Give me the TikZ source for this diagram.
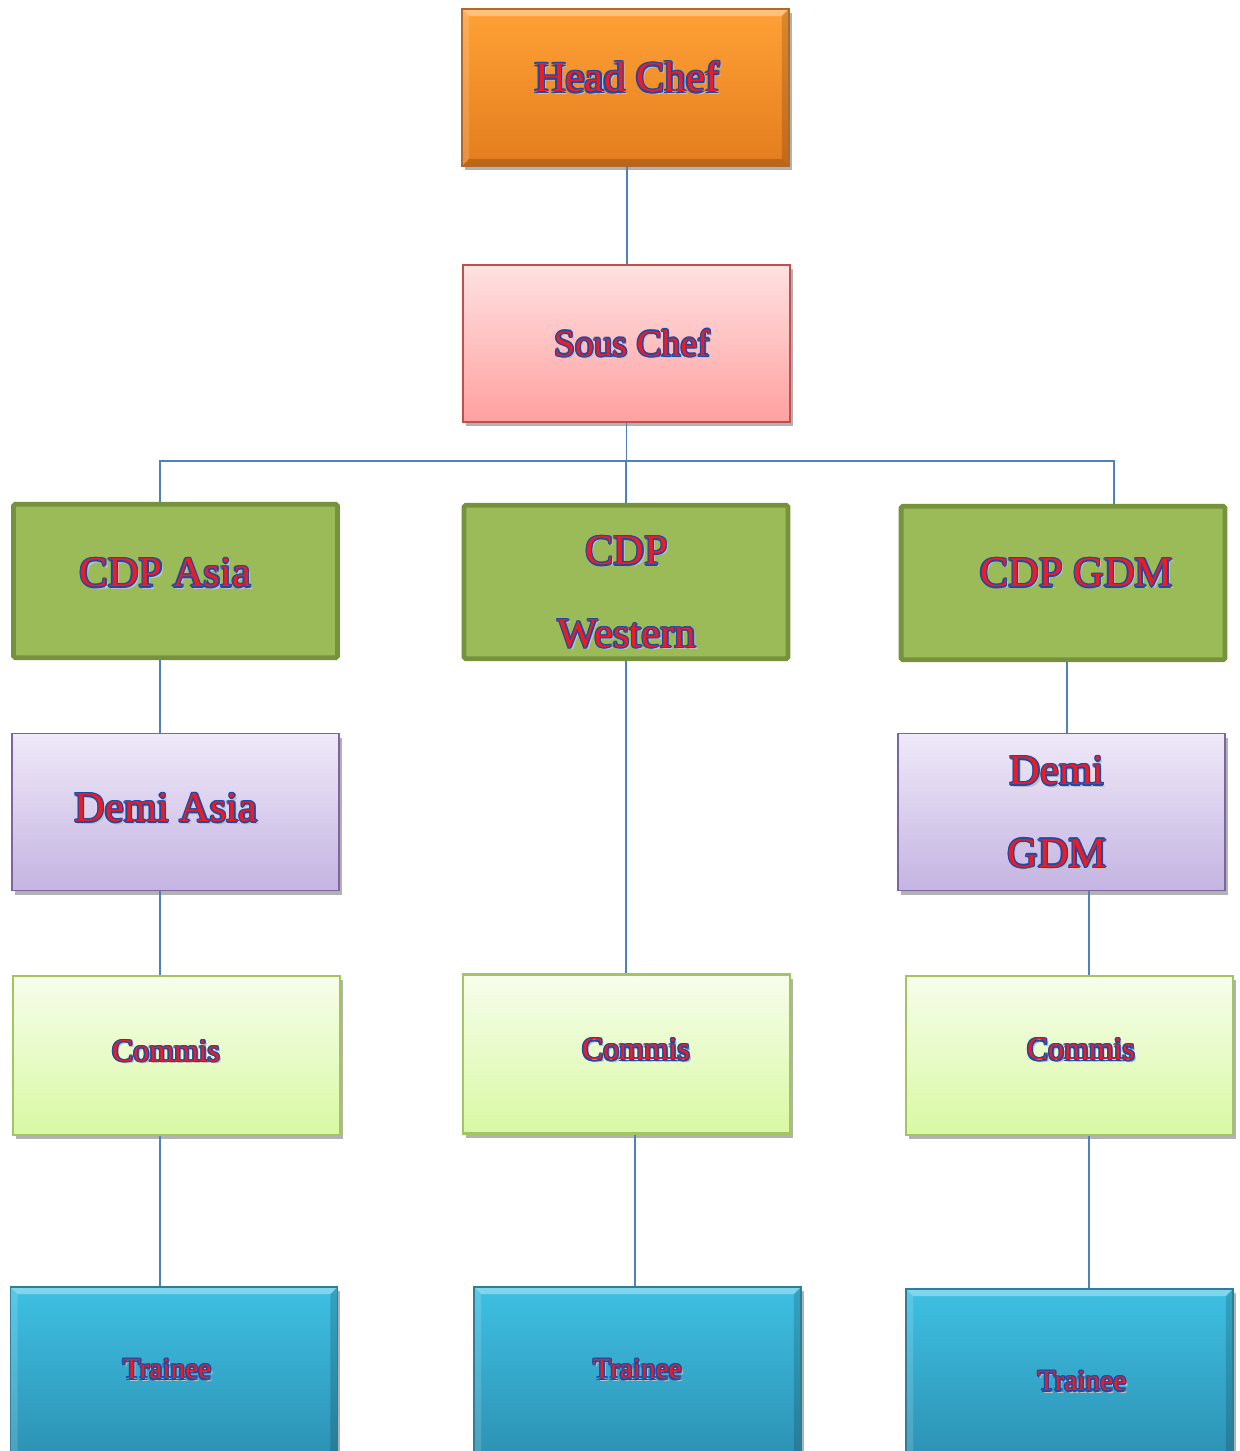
\documentclass[tikz,border=0pt]{standalone}
\usepackage{fontspec}
\setmainfont{Liberation Serif}
\usetikzlibrary{shadows}

\definecolor{headtop}{HTML}{FFA136}
\definecolor{headbot}{HTML}{E47D1E}
\definecolor{headline}{HTML}{B0692B}
\definecolor{soustop}{HTML}{FFE1E1}
\definecolor{sousbot}{HTML}{FFA0A0}
\definecolor{sousline}{HTML}{C0504D}
\definecolor{cdpfill}{HTML}{9BBB59}
\definecolor{cdpline}{HTML}{76923C}
\definecolor{demitop}{HTML}{EFE9F8}
\definecolor{demibot}{HTML}{C4B4E2}
\definecolor{demiline}{HTML}{8064A2}
\definecolor{commtop}{HTML}{F7FDEC}
\definecolor{commbot}{HTML}{D8F9A3}
\definecolor{commline}{HTML}{A3C45F}
\definecolor{traintop}{HTML}{3EC0E3}
\definecolor{trainbot}{HTML}{2C90B2}
\definecolor{trainline}{HTML}{2B7F99}
\definecolor{connblue}{HTML}{4F81BD}
\definecolor{artblue}{HTML}{1A4BA6}
\definecolor{artred}{HTML}{F01A22}

% red letters with a blue rim; optional shift of the line (twice the offset)
\newcommand{\artxt}[2][0pt]{\leavevmode\hspace*{#1}%
  \rlap{\kern1.3pt\raisebox{-1.3pt}{\color{black!25}#2}}%
  \rlap{\kern-.8pt\color{artblue}#2}%
  \rlap{\kern.8pt\color{artblue}#2}%
  \rlap{\raisebox{.8pt}{\color{artblue}#2}}%
  \rlap{\raisebox{-.8pt}{\color{artblue}#2}}%
  \rlap{\kern-.6pt\raisebox{-.6pt}{\color{artblue}#2}}%
  \rlap{\kern.6pt\raisebox{.6pt}{\color{artblue}#2}}%
  \rlap{\kern-.6pt\raisebox{.6pt}{\color{artblue}#2}}%
  \rlap{\kern.6pt\raisebox{-.6pt}{\color{artblue}#2}}%
  {\color{artred}#2}}

\tikzset{
  box/.style={rectangle, inner sep=0pt, align=center, minimum width=6.54cm, minimum height=3.14cm},
  softshadow/.style={drop shadow={shadow xshift=1.5pt, shadow yshift=-2.5pt, opacity=.3, fill=black}},
  bevel/.style={path picture={
    \fill[white,opacity=.35] (path picture bounding box.north west) -- (path picture bounding box.north east)
      -- ([shift={(-4pt,-4pt)}]path picture bounding box.north east) -- ([shift={(4pt,-4pt)}]path picture bounding box.north west) -- cycle;
    \fill[white,opacity=.15] (path picture bounding box.north west) -- (path picture bounding box.south west)
      -- ([shift={(4pt,4pt)}]path picture bounding box.south west) -- ([shift={(4pt,-4pt)}]path picture bounding box.north west) -- cycle;
    \fill[black,opacity=.15] (path picture bounding box.north east) -- (path picture bounding box.south east)
      -- ([shift={(-4pt,4pt)}]path picture bounding box.south east) -- ([shift={(-4pt,-4pt)}]path picture bounding box.north east) -- cycle;
    \fill[black,opacity=.18] (path picture bounding box.south west) -- (path picture bounding box.south east)
      -- ([shift={(-4pt,4pt)}]path picture bounding box.south east) -- ([shift={(4pt,4pt)}]path picture bounding box.south west) -- cycle;
  }},
  headbox/.style={box, top color=headtop, bottom color=headbot, draw=headline, line width=1pt,
    softshadow, bevel, font=\fontsize{24.4}{30}\selectfont},
  sousbox/.style={box, top color=soustop, bottom color=sousbot, draw=sousline, line width=1.1pt,
    softshadow, font=\fontsize{21.4}{26}\selectfont},
  cdpbox/.style={box, fill=cdpfill, draw=cdpline, line width=2.8pt, rounded corners=1pt,
    minimum width=6.48cm, minimum height=3.07cm, font=\fontsize{24.2}{47.2}\selectfont},
  demibox/.style={box, top color=demitop, bottom color=demibot, draw=demiline, line width=1.1pt,
    softshadow, font=\fontsize{24.2}{47}\selectfont},
  commbox/.style={box, top color=commtop, bottom color=commbot, draw=commline, line width=1.3pt,
    softshadow, minimum height=3.18cm, font=\fontsize{18.1}{22}\selectfont},
  trainbox/.style={box, top color=traintop, bottom color=trainbot, draw=trainline, line width=.8pt,
    softshadow, bevel, minimum height=3.5cm, font=\fontsize{16.7}{20}\selectfont},
  conn/.style={draw=connblue, line width=1.1pt}
}

\begin{document}
\begin{tikzpicture}[x=0.02cm,y=-0.02cm]
  \path[use as bounding box, clip] (0,0) rectangle (1240,1451);
  \fill[white] (0,0) rectangle (1240,1451);

  \node[headbox, text height=17pt, text depth=11.9pt] (head) at (625.5,87.5) {\artxt[2pt]{Head Chef}};
  \node[sousbox] (sous) at (626.5,343.5) {\artxt[6.2pt]{Sous Chef}};

  \node[cdpbox, text height=17pt, text depth=10.5pt] (asia) at (175.5,581) {\artxt[-11.3pt]{CDP Asia}};
  \node[cdpbox] (western) at (626,582) {\rule{0pt}{29.1pt}\artxt[1pt]{CDP}\\\artxt[1pt]{Western}};
  \node[cdpbox, text height=17pt, text depth=12.8pt] (gdm) at (1063,583) {\artxt[15.3pt]{CDP GDM}};

  \node[demibox, text height=17pt, text depth=5.7pt] (demiasia) at (175.5,812) {\artxt[-10.8pt]{Demi Asia}};
  \node[demibox] (demigdm) at (1061.5,812) {\rule{0pt}{17.5pt}\artxt[-5.1pt]{Demi}\\\artxt[-5.1pt]{GDM}};

  \node[commbox, text height=12.7pt, text depth=5.9pt] (commisa) at (176.5,1055.5) {\artxt[-11.9pt]{Commis}};
  \node[commbox, text height=12.7pt, text depth=5.9pt] (commisb) at (626.5,1054) {\artxt[10.8pt]{Commis}};
  \node[commbox, text height=12.7pt, text depth=7.6pt] (commisc) at (1069.5,1055.5) {\artxt[13pt]{Commis}};

  \node[trainbox, text height=11.7pt, text depth=6.6pt] (traineea) at (174,1374.5) {\artxt[-7.9pt]{Trainee}};
  \node[trainbox, text height=11.7pt, text depth=6.6pt] (traineeb) at (637.5,1374.5) {\artxt{Trainee}};
  \node[trainbox, text height=16.4pt, text depth=0pt] (traineec) at (1069.5,1376.5) {\artxt[14.2pt]{Trainee}};

  \coordinate (bus) at (626,461);
  \draw[conn] (627,0 |- head.south) -- (627,0 |- sous.north);
  \draw[conn] (sous.south) -- (sous.south |- bus);
  \draw[conn] (160,0 |- asia.north) -- (160,0 |- bus) -- (1114,0 |- bus) -- (1114,0 |- gdm.north);
  \draw[conn] (bus) -- (bus |- western.north);
  \foreach \a/\b/\x in {asia/demiasia/160, demiasia/commisa/160, commisa/traineea/160,
      western/commisb/626, commisb/traineeb/635,
      gdm/demigdm/1067, demigdm/commisc/1089, commisc/traineec/1089} {
    \draw[conn] (\x,0 |- \a.south) -- (\x,0 |- \b.north);
  }
\end{tikzpicture}
\end{document}
